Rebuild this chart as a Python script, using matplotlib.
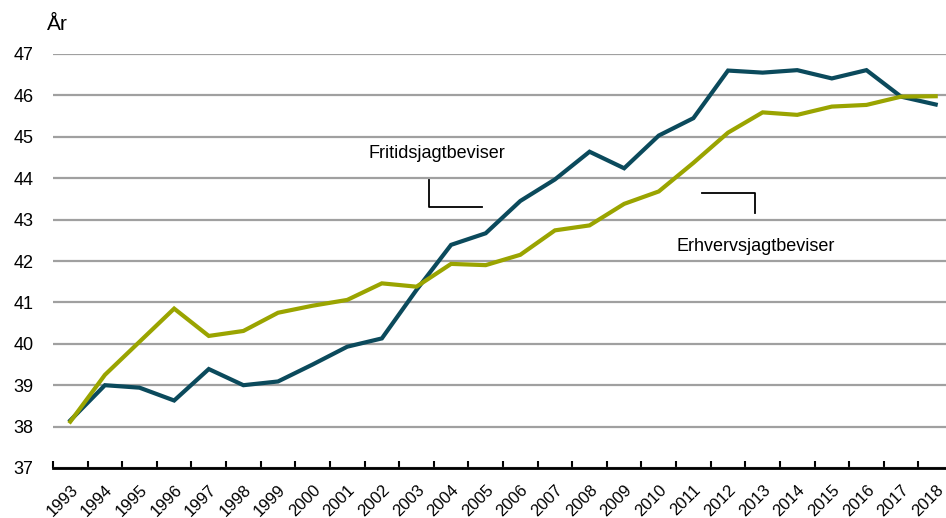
import matplotlib.pyplot as plt
import numpy as np

plt.rcParams["font.family"] = ["Liberation Sans", "DejaVu Sans"]

# --------------------------------------------------
# data
# --------------------------------------------------
years = [str(y) for y in range(1993, 2019)]
fritid = [38.15, 39.00, 38.94, 38.63, 39.39, 39.00, 39.09, 39.50, 39.93, 40.13,
          41.30, 42.39, 42.67, 43.45, 43.97, 44.64, 44.24, 45.03, 45.45, 46.60,
          46.55, 46.61, 46.41, 46.61, 45.97, 45.78]
erhverv = [38.12, 39.25, 40.05, 40.85, 40.19, 40.31, 40.75, 40.92, 41.06, 41.46,
           41.38, 41.93, 41.90, 42.15, 42.74, 42.86, 43.38, 43.68, 44.37, 45.10,
           45.59, 45.53, 45.73, 45.77, 45.97, 45.98]
y_ticks = list(range(37, 48))

dark = "#0b4a5c"
green = "#9aa400"

# --------------------------------------------------
# figure and axes
# --------------------------------------------------
fig = plt.figure(figsize=(9.46, 5.18), dpi=100)
ax = fig.add_axes([53 / 946, 1 - 468 / 518, 900 / 946, 414 / 518])

x = np.arange(len(years))
ax.plot(x, fritid, color=dark, lw=3.0, solid_joinstyle="miter", zorder=3)
ax.plot(x, erhverv, color=green, lw=3.0, solid_joinstyle="miter", zorder=3)

ax.set_xlim(-0.5, len(years) - 0.5)
ax.set_ylim(37, 47)

# gridlines
ax.set_yticks(y_ticks)
ax.yaxis.grid(True, color="#a0a0a0", lw=1.6)
ax.set_axisbelow(True)
ax.tick_params(axis="y", length=0, pad=14, labelsize=13)

# x axis: labels at category centers, tick marks between categories
ax.set_xticks(x)
ax.set_xticklabels(years, rotation=45, ha="right", va="top",
                   rotation_mode="anchor", fontsize=12)
ax.set_xticks(np.arange(len(years) + 1) - 0.5, minor=True)
ax.tick_params(axis="x", which="major", length=0, pad=10)
ax.tick_params(axis="x", which="minor", direction="in", length=5, width=1.5,
               color="black")

for side in ("top", "right", "left"):
    ax.spines[side].set_visible(False)
ax.spines["bottom"].set_linewidth(2)
ax.spines["bottom"].set_zorder(4)

# --------------------------------------------------
# series labels with connectors
# --------------------------------------------------
ax.text(10.6, 44.6, "Fritidsjagtbeviser", ha="center", va="center", fontsize=13)
ax.plot([10.37, 10.37, 11.9], [43.96, 43.30, 43.30], color="black", lw=1.3)
ax.text(19.79, 42.35, "Erhvervsjagtbeviser", ha="center", va="center", fontsize=13)
ax.plot([18.26, 19.79, 19.79], [43.64, 43.64, 43.15], color="black", lw=1.3)

fig.text(47 / 946, 1 - 25 / 518, "År", ha="left", va="center", fontsize=15)

fig.savefig("out.png", dpi=100)
